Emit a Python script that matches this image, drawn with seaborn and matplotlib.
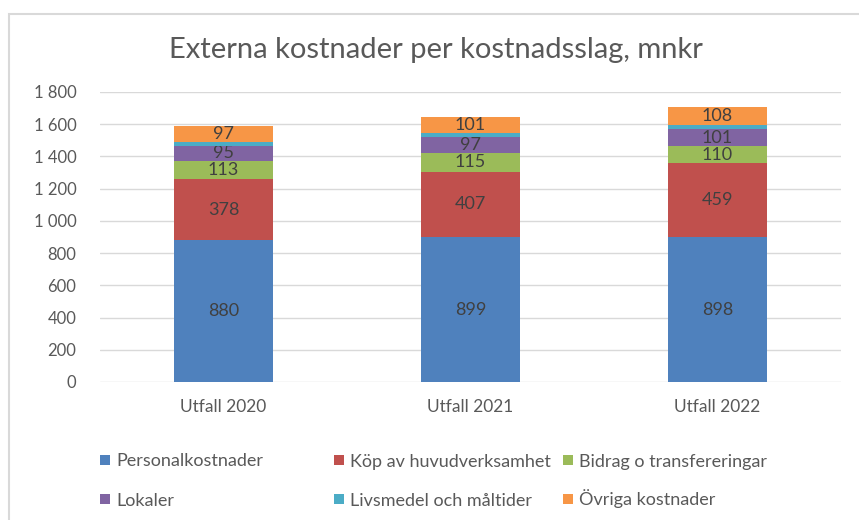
import matplotlib
matplotlib.use("Agg")
import matplotlib.pyplot as plt
import seaborn as sns
import numpy as np
import pandas as pd
from matplotlib.patches import Rectangle

categories = ["Utfall 2020", "Utfall 2021", "Utfall 2022"]
series_names = ["Personalkostnader", "Köp av huvudverksamhet", "Bidrag o transfereringar",
                "Lokaler", "Livsmedel och måltider", "Övriga kostnader"]
personal = [880, 899, 898]
kop = [378, 407, 459]
bidrag = [113, 115, 110]
lokaler = [95, 97, 101]
livsmedel = [24, 26, 28]
ovriga = [97, 101, 108]
show_labels = [True, True, True, True, False, True]
y_ticks = [0, 200, 400, 600, 800, 1000, 1200, 1400, 1600, 1800]
y_ticklabels = ["0", "200", "400", "600", "800", "1 000", "1 200", "1 400", "1 600", "1 800"]
colors = ["#4F81BD", "#C0504D", "#9BBB59", "#8064A2", "#4BACC6", "#F79646"]

sns.set_theme(style="white")
plt.rcParams["font.family"] = ["Lato", "DejaVu Sans"]

W, H = 859, 520
fig = plt.figure(figsize=(W/100, H/100), dpi=100)
ax = fig.add_axes([100/W, 1 - 382/H, 741/W, 290/H])

values = [personal, kop, bidrag, lokaler, livsmedel, ovriga]
bottom = np.zeros(len(categories))
for name, vals, col, lab in zip(series_names, values, colors, show_labels):
    df = pd.DataFrame({"cat": categories, "val": vals})
    sns.barplot(data=df, x="cat", y="val", color=col, width=0.4, bottom=bottom,
                ax=ax, saturation=1, linewidth=0, zorder=3)
    cont = ax.containers[-1]
    if lab:
        ax.bar_label(cont, labels=[str(v) for v in vals], label_type="center",
                     fontsize=13, color="#404040")
    bottom = bottom + np.array(vals)

ax.set_xlim(-0.5, 2.5)
ax.set_ylim(0, 1800)
ax.set_yticks(y_ticks)
ax.set_yticklabels(y_ticklabels)
ax.set_xlabel("")
ax.set_ylabel("")
ax.tick_params(axis="y", length=0, pad=17, labelsize=12, labelcolor="#595959")
ax.tick_params(axis="x", length=0, pad=12, labelsize=12.5, labelcolor="#595959")
for s in ax.spines.values():
    s.set_visible(False)
ax.yaxis.grid(True, color="#D9D9D9", linewidth=1, zorder=0)
ax.set_axisbelow(True)

fig.text(436/W, 1 - 50/H, "Externa kostnader per kostnadsslag, mnkr",
         ha="center", va="center", fontsize=21, color="#595959")

# legend laid out row-wise like the reference
col_x = [100, 334, 563]
row_y = [460, 499]
sq = 10
for i, (name, col) in enumerate(zip(series_names, colors)):
    r, c = divmod(i, 3)
    x0, yc = col_x[c], row_y[r]
    fig.patches.append(Rectangle((x0/W, 1 - (yc + sq/2)/H), sq/W, sq/H,
                                 transform=fig.transFigure, facecolor=col,
                                 edgecolor="none"))
    fig.text((x0 + sq + 6)/W, 1 - (yc + 6.5)/H, name, ha="left", va="baseline",
             fontsize=13, color="#595959")

# chart frame: only top and left edges visible in the crop
fig.patches.append(Rectangle((9/W, -0.05), 1.0, 1 - 14/H + 0.05,
                             transform=fig.transFigure, fill=False,
                             edgecolor="#D9D9D9", linewidth=1.5))

fig.savefig("out.png", dpi=100)
